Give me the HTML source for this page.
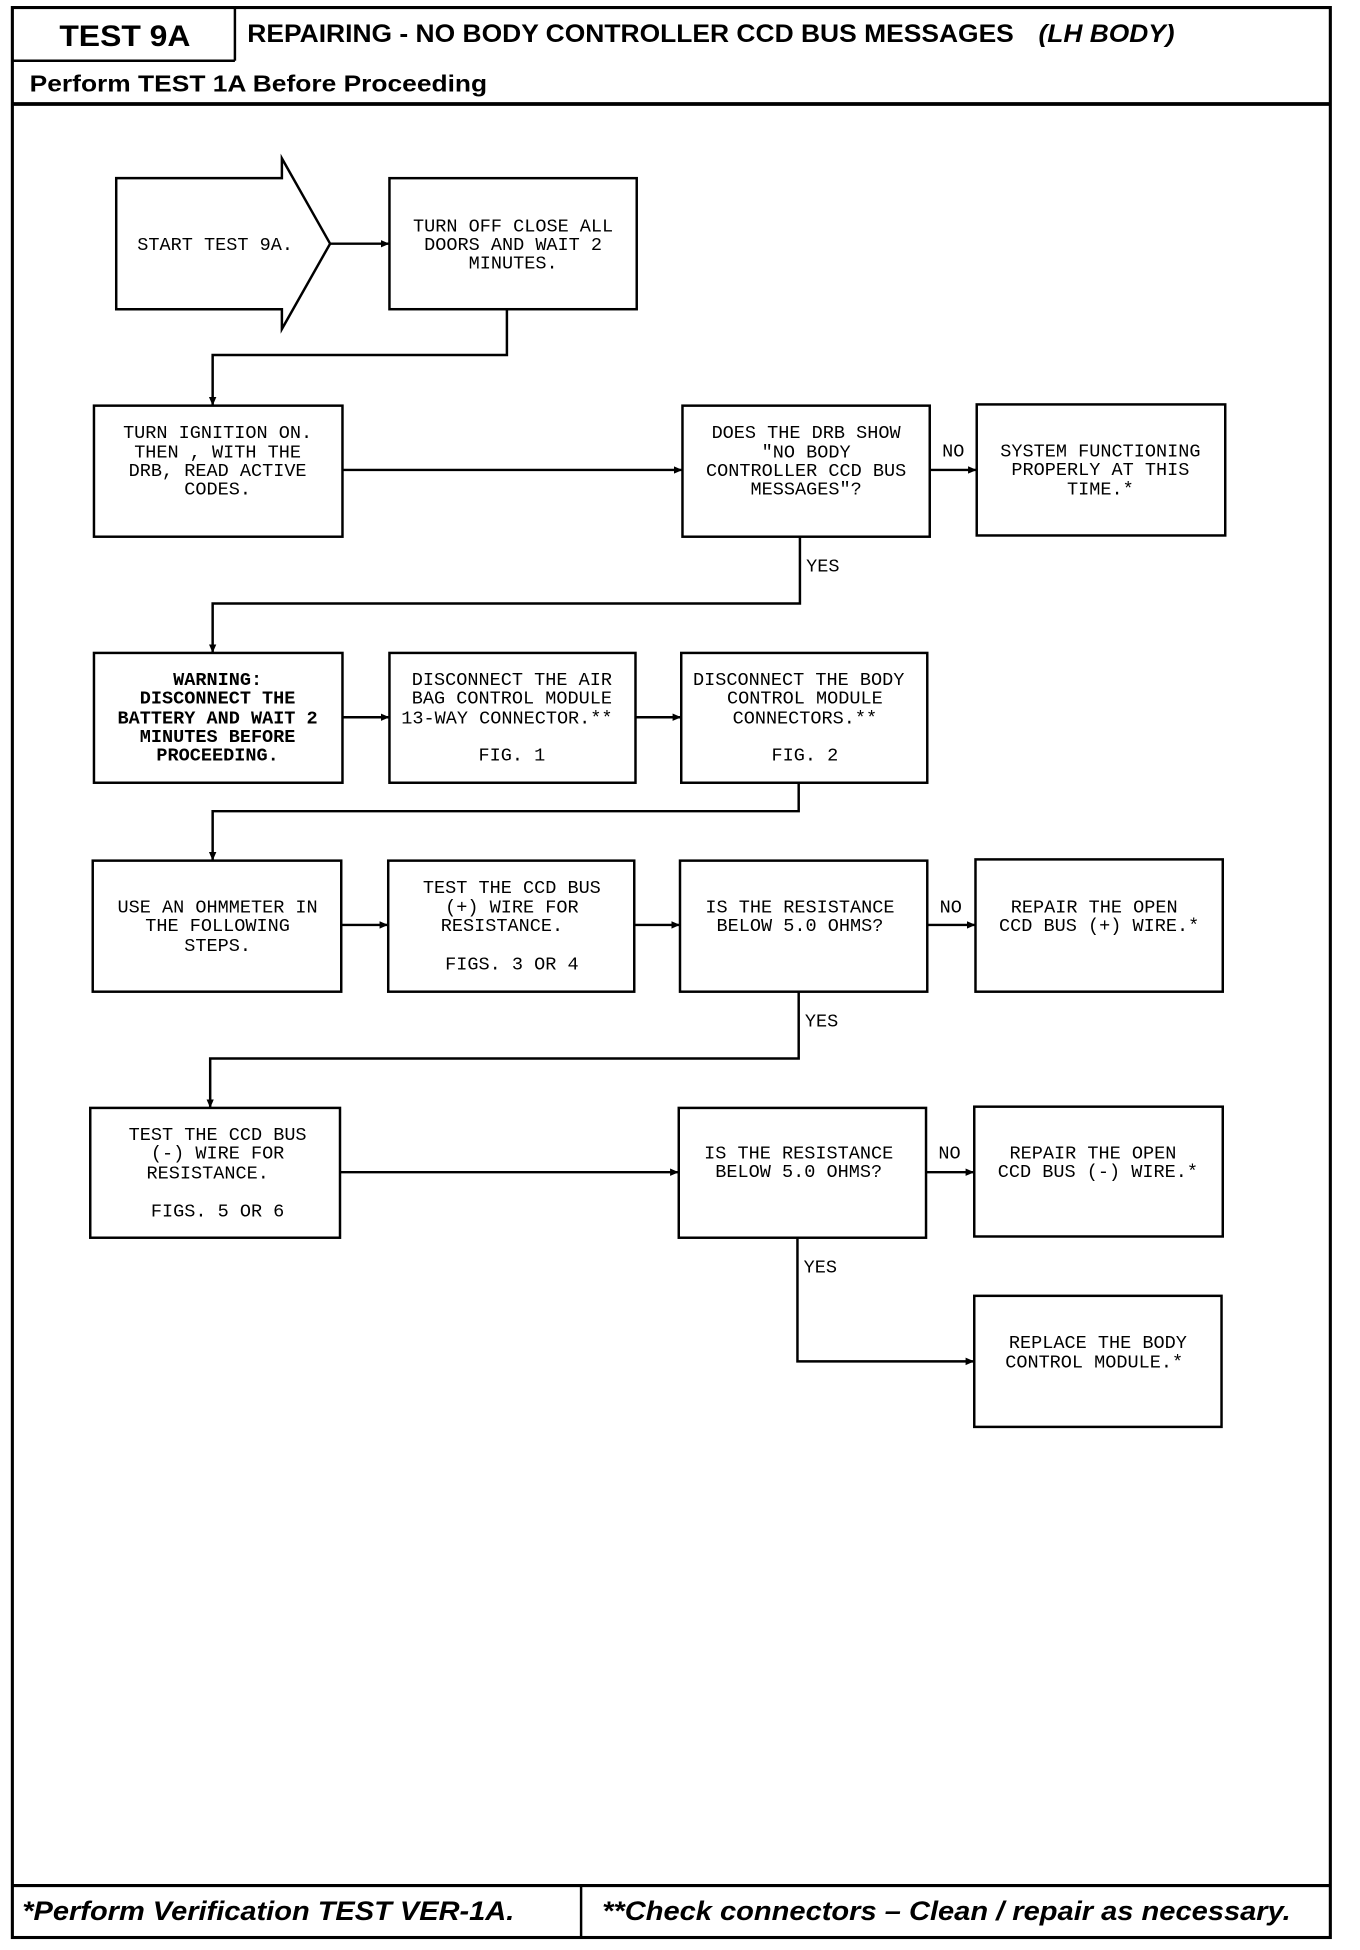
<!DOCTYPE html>
<html><head><meta charset="utf-8"><style>
html,body{margin:0;padding:0;background:#fff;}
svg{display:block;}
.t{font-family:"Liberation Mono",monospace;font-size:15px;fill:#000;text-anchor:middle;}
.b{font-weight:bold;}
.box{fill:#fff;stroke:#000;stroke-width:2;}
.ln{fill:none;stroke:#000;stroke-width:2;}
.lbl{font-family:"Liberation Mono",monospace;font-size:15px;fill:#000;}
</style></head><body>
<svg width="1360" height="1950" viewBox="0 0 1100 1577" xmlns="http://www.w3.org/2000/svg">
<defs><marker id="a" markerWidth="8" markerHeight="8" refX="7" refY="4" orient="auto" markerUnits="userSpaceOnUse"><path d="M0,1 L7,4 L0,7 Z" fill="#000"/></marker></defs>
<rect x="10" y="6" width="1066" height="1561" fill="none" stroke="#000" stroke-width="2.5"/>
<line x1="10" y1="49" x2="190" y2="49" stroke="#000" stroke-width="2"/>
<line x1="190" y1="6" x2="190" y2="49" stroke="#000" stroke-width="2"/>
<line x1="10" y1="84" x2="1076" y2="84" stroke="#000" stroke-width="3"/>
<text x="101" y="37" font-family="Liberation Sans,sans-serif" font-weight="bold" font-size="24" text-anchor="middle" textLength="106" lengthAdjust="spacingAndGlyphs">TEST 9A</text>
<text x="200" y="34" font-family="Liberation Sans,sans-serif" font-weight="bold" font-size="20" textLength="620" lengthAdjust="spacingAndGlyphs">REPAIRING - NO BODY CONTROLLER CCD BUS MESSAGES</text>
<text x="840" y="34" font-family="Liberation Sans,sans-serif" font-weight="bold" font-style="italic" font-size="20" textLength="110" lengthAdjust="spacingAndGlyphs">(LH BODY)</text>
<text x="24" y="74" font-family="Liberation Sans,sans-serif" font-weight="bold" font-size="19" textLength="370" lengthAdjust="spacingAndGlyphs">Perform TEST 1A Before Proceeding</text>
<line x1="10" y1="1525" x2="1076" y2="1525" stroke="#000" stroke-width="2.5"/>
<line x1="470" y1="1525" x2="470" y2="1567" stroke="#000" stroke-width="2"/>
<text x="18" y="1553" font-family="Liberation Sans,sans-serif" font-weight="bold" font-style="italic" font-size="22" textLength="398" lengthAdjust="spacingAndGlyphs">*Perform Verification TEST VER-1A.</text>
<text x="487" y="1553" font-family="Liberation Sans,sans-serif" font-weight="bold" font-style="italic" font-size="22" textLength="557" lengthAdjust="spacingAndGlyphs">**Check connectors – Clean / repair as necessary.</text>

<path class="box" d="M94,144 L228,144 L228,128 L267,197 L228,266 L228,250 L94,250 Z"/>
<text class="t" x="174" y="202">START TEST 9A.</text>
<line class="ln" x1="267" y1="197" x2="315" y2="197" marker-end="url(#a)"/>
<rect class="box" x="315" y="144" width="200" height="106"/>
<text class="t" x="415" y="187">TURN OFF CLOSE ALL</text>
<text class="t" x="415" y="202">DOORS AND WAIT 2</text>
<text class="t" x="415" y="217">MINUTES.</text>
<polyline class="ln" points="410,250 410,287 172,287 172,328" marker-end="url(#a)"/>

<rect class="box" x="76" y="328" width="201" height="106"/>
<text class="t" x="176" y="354">TURN IGNITION ON.</text>
<text class="t" x="176" y="370">THEN , WITH THE</text>
<text class="t" x="176" y="385">DRB, READ ACTIVE</text>
<text class="t" x="176" y="400">CODES.</text>
<line class="ln" x1="277" y1="380" x2="552" y2="380" marker-end="url(#a)"/>
<rect class="box" x="552" y="328" width="200" height="106"/>
<text class="t" x="652" y="354">DOES THE DRB SHOW</text>
<text class="t" x="652" y="370">"NO BODY</text>
<text class="t" x="652" y="385">CONTROLLER CCD BUS</text>
<text class="t" x="652" y="400">MESSAGES"?</text>
<line class="ln" x1="752" y1="380" x2="790" y2="380" stroke-width="3" marker-end="url(#a)"/>
<text class="lbl" x="762" y="369">NO</text>
<rect class="box" x="790" y="327" width="201" height="106"/>
<text class="t" x="890" y="369">SYSTEM FUNCTIONING</text>
<text class="t" x="890" y="384">PROPERLY AT THIS</text>
<text class="t" x="890" y="400">TIME.*</text>
<polyline class="ln" points="647,434 647,488 172,488 172,528" marker-end="url(#a)"/>
<text class="lbl" x="652" y="462">YES</text>

<rect class="box" x="76" y="528" width="201" height="105"/>
<text class="t b" x="176" y="554">WARNING:</text>
<text class="t b" x="176" y="569">DISCONNECT THE</text>
<text class="t b" x="176" y="585">BATTERY AND WAIT 2</text>
<text class="t b" x="176" y="600">MINUTES BEFORE</text>
<text class="t b" x="176" y="615">PROCEEDING.</text>
<line class="ln" x1="277" y1="580" x2="315" y2="580" marker-end="url(#a)"/>
<rect class="box" x="315" y="528" width="199" height="105"/>
<text class="t" x="414" y="554">DISCONNECT THE AIR</text>
<text class="t" x="414" y="569">BAG CONTROL MODULE</text>
<text class="t" x="410" y="585">13-WAY CONNECTOR.**</text>
<text class="t" x="414" y="615">FIG. 1</text>
<line class="ln" x1="514" y1="580" x2="551" y2="580" marker-end="url(#a)"/>
<rect class="box" x="551" y="528" width="199" height="105"/>
<text class="t" x="646" y="554">DISCONNECT THE BODY</text>
<text class="t" x="651" y="569">CONTROL MODULE</text>
<text class="t" x="651" y="585">CONNECTORS.**</text>
<text class="t" x="651" y="615">FIG. 2</text>
<polyline class="ln" points="646,633 646,656 172,656 172,696" marker-end="url(#a)"/>

<rect class="box" x="75" y="696" width="201" height="106"/>
<text class="t" x="176" y="738">USE AN OHMMETER IN</text>
<text class="t" x="176" y="753">THE FOLLOWING</text>
<text class="t" x="176" y="769">STEPS.</text>
<line class="ln" x1="276" y1="748" x2="314" y2="748" marker-end="url(#a)"/>
<rect class="box" x="314" y="696" width="199" height="106"/>
<text class="t" x="414" y="722">TEST THE CCD BUS</text>
<text class="t" x="414" y="738">(+) WIRE FOR</text>
<text class="t" x="406" y="753">RESISTANCE.</text>
<text class="t" x="414" y="784">FIGS. 3 OR 4</text>
<line class="ln" x1="513" y1="748" x2="550" y2="748" marker-end="url(#a)"/>
<rect class="box" x="550" y="696" width="200" height="106"/>
<text class="t" x="647" y="738">IS THE RESISTANCE</text>
<text class="t" x="647" y="753">BELOW 5.0 OHMS?</text>
<line class="ln" x1="750" y1="748" x2="789" y2="748" marker-end="url(#a)"/>
<text class="lbl" x="760" y="738">NO</text>
<rect class="box" x="789" y="695" width="200" height="107"/>
<text class="t" x="885" y="738">REPAIR THE OPEN</text>
<text class="t" x="889" y="753">CCD BUS (+) WIRE.*</text>
<polyline class="ln" points="646,802 646,856 170,856 170,896" marker-end="url(#a)"/>
<text class="lbl" x="651" y="830">YES</text>

<rect class="box" x="73" y="896" width="202" height="105"/>
<text class="t" x="176" y="922">TEST THE CCD BUS</text>
<text class="t" x="176" y="937">(-) WIRE FOR</text>
<text class="t" x="168" y="953">RESISTANCE.</text>
<text class="t" x="176" y="984">FIGS. 5 OR 6</text>
<line class="ln" x1="275" y1="948" x2="549" y2="948" marker-end="url(#a)"/>
<rect class="box" x="549" y="896" width="200" height="105"/>
<text class="t" x="646" y="937">IS THE RESISTANCE</text>
<text class="t" x="646" y="952">BELOW 5.0 OHMS?</text>
<line class="ln" x1="749" y1="948" x2="788" y2="948" marker-end="url(#a)"/>
<text class="lbl" x="759" y="937">NO</text>
<rect class="box" x="788" y="895" width="201" height="105"/>
<text class="t" x="884" y="937">REPAIR THE OPEN</text>
<text class="t" x="888" y="952">CCD BUS (-) WIRE.*</text>
<polyline class="ln" points="645,1001 645,1101 788,1101" marker-end="url(#a)"/>
<text class="lbl" x="650" y="1029">YES</text>
<rect class="box" x="788" y="1048" width="200" height="106"/>
<text class="t" x="888" y="1090">REPLACE THE BODY</text>
<text class="t" x="885" y="1106">CONTROL MODULE.*</text>
</svg>
</body></html>
